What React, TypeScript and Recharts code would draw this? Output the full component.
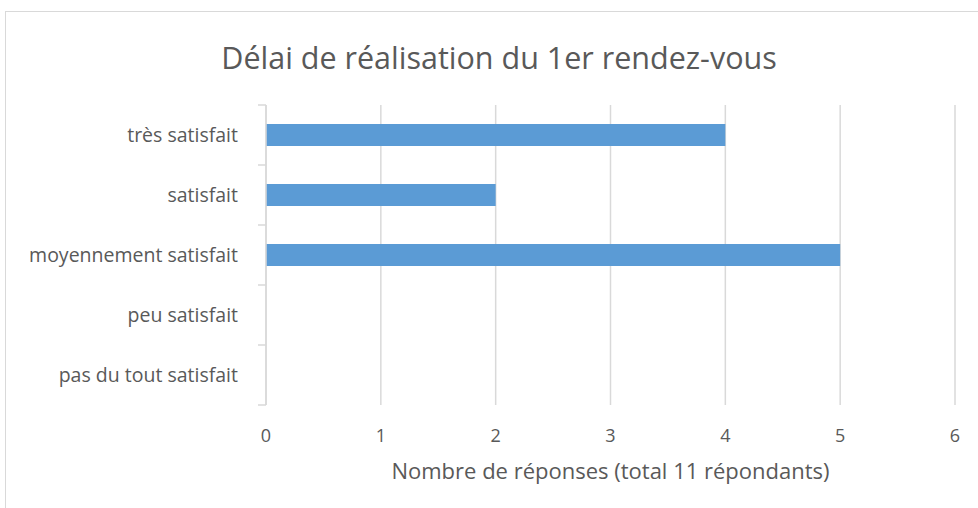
import React from 'react';
import { BarChart, Bar, XAxis, YAxis, CartesianGrid } from 'recharts';

const categories = ['très satisfait', 'satisfait', 'moyennement satisfait', 'peu satisfait', 'pas du tout satisfait'];
const responses = [4, 2, 5, 0, 0];
const xTicks = [0, 1, 2, 3, 4, 5, 6];
const title = 'Délai de réalisation du 1er rendez-vous';
const xLabel = 'Nombre de réponses (total 11 répondants)';

const data = categories.map((c, i) => ({ name: c, value: responses[i] }));

const FONT = '"Open Sans", sans-serif';
const GREY = '#595959';
const LINE = '#d9d9d9';

function YTick(props: any) {
  const { x, y, payload, index, visibleTicksCount } = props;
  const half = payload && typeof payload.offset === 'number' && payload.offset > 0 ? payload.offset : 30;
  const axisX = x + 28;
  const last = index === (visibleTicksCount ?? categories.length) - 1;
  return (
    <g>
      <line x1={axisX - 8} x2={axisX} y1={y - half} y2={y - half} stroke={LINE} strokeWidth={1.5} />
      {last && <line x1={axisX - 8} x2={axisX} y1={y + half} y2={y + half} stroke={LINE} strokeWidth={1.5} />}
      <text x={x} y={y} dy="0.35em" textAnchor="end" fontSize={19.5} fill={GREY} fontFamily={FONT}>
        {payload.value}
      </text>
    </g>
  );
}

export default function App() {
  return (
    <div style={{ position: 'absolute', left: 0, top: 0, width: 978, height: 508, overflow: 'hidden', background: '#fff', fontFamily: FONT }}>
      <div style={{ position: 'absolute', left: 5, top: 11, width: 1100, height: 700, border: '1px solid #d9d9d9', boxSizing: 'border-box' }} />
      <div style={{ position: 'absolute', left: 9, width: 980, top: 36, textAlign: 'center', fontSize: 30.5, color: GREY, lineHeight: '42px' }}>{title}</div>
      <div style={{ position: 'absolute', left: 0, top: 0 }}>
        <BarChart
          width={978}
          height={508}
          data={data}
          layout="vertical"
          margin={{ top: 105, right: 23, bottom: 0, left: 26 }}
          barCategoryGap={19}
        >
          <CartesianGrid horizontal={false} vertical stroke={LINE} strokeWidth={1.5} />
          <XAxis
            type="number"
            domain={[0, 6]}
            ticks={xTicks}
            axisLine={false}
            tickLine={false}
            tickSize={0}
            tickMargin={24}
            height={103}
            tick={{ fontSize: 18, fill: GREY, fontFamily: FONT }}
            label={{ value: xLabel, position: 'insideTop', offset: 58, fontSize: 22, fill: GREY, fontFamily: FONT }}
          />
          <YAxis
            type="category"
            dataKey="name"
            width={240}
            axisLine={{ stroke: LINE, strokeWidth: 1.5 }}
            tickLine={false}
            tickSize={0}
            tickMargin={28}
            tick={<YTick />}
          />
          <Bar dataKey="value" fill="#5b9bd5" isAnimationActive={false} />
        </BarChart>
      </div>
    </div>
  );
}
